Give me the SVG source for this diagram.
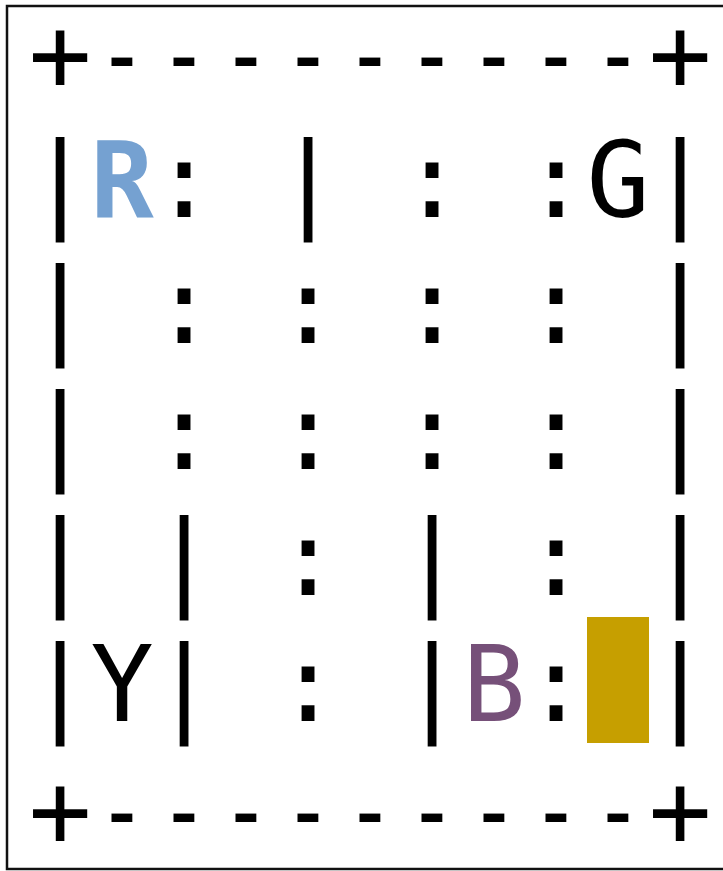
<svg xmlns="http://www.w3.org/2000/svg" width="723" height="871" viewBox="0 0 723 871">
  <style>
    .t { font-family: "DejaVu Sans Mono", "Liberation Mono", monospace; font-size: 105px; fill: #000; text-anchor: middle; }
    .r { fill: #75a1d1; font-weight: bold; }
    .b { fill: #765079; }
  </style>
  <rect x="0" y="0" width="723" height="871" fill="#ffffff"/>
  <rect x="7" y="6" width="740" height="863" fill="#ffffff" stroke="#111" stroke-width="2.5"/>
  <rect id="taxi" x="587" y="617" width="62" height="126" fill="#c69f00"/>
  <g id="row0" class="t">
    <text class="t" x="60" y="91">+</text>
    <text class="t" transform="translate(122 91) scale(0.78 1)">-</text>
    <text class="t" transform="translate(184 91) scale(0.78 1)">-</text>
    <text class="t" transform="translate(246 91) scale(0.78 1)">-</text>
    <text class="t" transform="translate(308 91) scale(0.78 1)">-</text>
    <text class="t" transform="translate(370 91) scale(0.78 1)">-</text>
    <text class="t" transform="translate(432 91) scale(0.78 1)">-</text>
    <text class="t" transform="translate(494 91) scale(0.78 1)">-</text>
    <text class="t" transform="translate(556 91) scale(0.78 1)">-</text>
    <text class="t" transform="translate(618 91) scale(0.78 1)">-</text>
    <text class="t" x="680" y="91">+</text>
  </g>
  <g id="row1">
    <text class="t" y="217"><tspan x="60">|</tspan><tspan x="122" class="r">R</tspan><tspan x="184">:</tspan><tspan x="308">|</tspan><tspan x="432">:</tspan><tspan x="556">:</tspan><tspan x="618">G</tspan><tspan x="680">|</tspan></text>
  </g>
  <g id="row2">
    <text class="t" y="343"><tspan x="60">|</tspan><tspan x="184">:</tspan><tspan x="308">:</tspan><tspan x="432">:</tspan><tspan x="556">:</tspan><tspan x="680">|</tspan></text>
  </g>
  <g id="row3">
    <text class="t" y="469"><tspan x="60">|</tspan><tspan x="184">:</tspan><tspan x="308">:</tspan><tspan x="432">:</tspan><tspan x="556">:</tspan><tspan x="680">|</tspan></text>
  </g>
  <g id="row4">
    <text class="t" y="595"><tspan x="60">|</tspan><tspan x="184">|</tspan><tspan x="308">:</tspan><tspan x="432">|</tspan><tspan x="556">:</tspan><tspan x="680">|</tspan></text>
  </g>
  <g id="row5">
    <text class="t" y="721"><tspan x="60">|</tspan><tspan x="122">Y</tspan><tspan x="184">|</tspan><tspan x="308">:</tspan><tspan x="432">|</tspan><tspan x="494" class="b">B</tspan><tspan x="556">:</tspan><tspan x="680">|</tspan></text>
  </g>
  <g id="row6">
    <text class="t" x="60" y="847">+</text>
    <text class="t" transform="translate(122 847) scale(0.78 1)">-</text>
    <text class="t" transform="translate(184 847) scale(0.78 1)">-</text>
    <text class="t" transform="translate(246 847) scale(0.78 1)">-</text>
    <text class="t" transform="translate(308 847) scale(0.78 1)">-</text>
    <text class="t" transform="translate(370 847) scale(0.78 1)">-</text>
    <text class="t" transform="translate(432 847) scale(0.78 1)">-</text>
    <text class="t" transform="translate(494 847) scale(0.78 1)">-</text>
    <text class="t" transform="translate(556 847) scale(0.78 1)">-</text>
    <text class="t" transform="translate(618 847) scale(0.78 1)">-</text>
    <text class="t" x="680" y="847">+</text>
  </g>
</svg>
